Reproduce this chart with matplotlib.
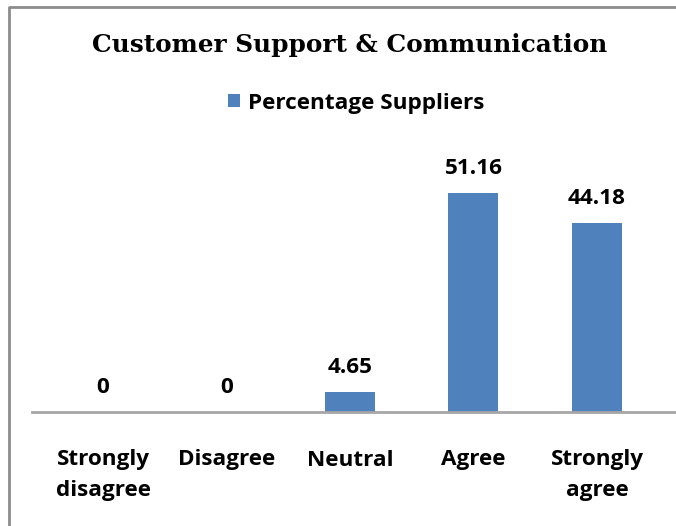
import matplotlib.pyplot as plt
from matplotlib.lines import Line2D

TITLE = "Customer Support & Communication"
SERIES_NAME = "Percentage Suppliers"
CATEGORIES = ["Strongly\ndisagree", "Disagree", "Neutral", "Agree", "Strongly\nagree"]
VALUES = [0, 0, 4.65, 51.16, 44.18]
VALUE_LABELS = ["0", "0", "4.65", "51.16", "44.18"]

BAR_COLOR = "#4F81BD"
AXIS_COLOR = "#A6A6A6"
BORDER_COLOR = "#8C8C8C"
SANS = ["Open Sans", "DejaVu Sans"]
FS = 16.2

W, H = 676, 526
fig = plt.figure(figsize=(W / 100, H / 100), dpi=100)

# outer chart border: only top and left edges fall inside the picture
fig.lines.append(Line2D([9 / W, 9 / W, 1.0], [0.0, 1 - 7 / H, 1 - 7 / H], transform=fig.transFigure,
                        color=BORDER_COLOR, linewidth=2))

ax_left, ax_right = 32, 676
ax_bottom, ax_top = 412, 150
ax = fig.add_axes([ax_left / W, 1 - ax_bottom / H, (ax_right - ax_left) / W, (ax_bottom - ax_top) / H])
ax.set_facecolor("none")

x = list(range(len(CATEGORIES)))
bars = ax.bar(x, VALUES, width=0.405, color=BAR_COLOR, label=SERIES_NAME)
ax.bar_label(bars, labels=VALUE_LABELS, padding=10, fontsize=FS, fontweight="bold", family=SANS)

ax.set_xlim(-0.575, 4.64)
ax.set_ylim(0, 61.2)
for side in ("left", "right", "top"):
    ax.spines[side].set_visible(False)
ax.spines["bottom"].set_color(AXIS_COLOR)
ax.spines["bottom"].set_linewidth(2)
ax.set_yticks([])
ax.set_xticks(x, CATEGORIES)
ax.tick_params(axis="x", length=0, pad=27)
for lbl in ax.get_xticklabels():
    lbl.set_fontsize(FS)
    lbl.set_fontweight("bold")
    lbl.set_family(SANS)
    lbl.set_linespacing(1.6)
    lbl.set_verticalalignment("top")

fig.text(350 / W, 1 - 45 / H, TITLE, ha="center", va="center", fontsize=17.8,
         fontweight="bold", family=["DejaVu Serif"])

fig.legend(handles=[bars], labels=[SERIES_NAME], loc="center", bbox_to_anchor=(356 / W, 1 - 103 / H),
           frameon=False, handlelength=0.55, handleheight=0.55, handletextpad=0.35,
           prop={"family": SANS, "weight": "bold", "size": FS})

fig.savefig("out.png", dpi=100)
